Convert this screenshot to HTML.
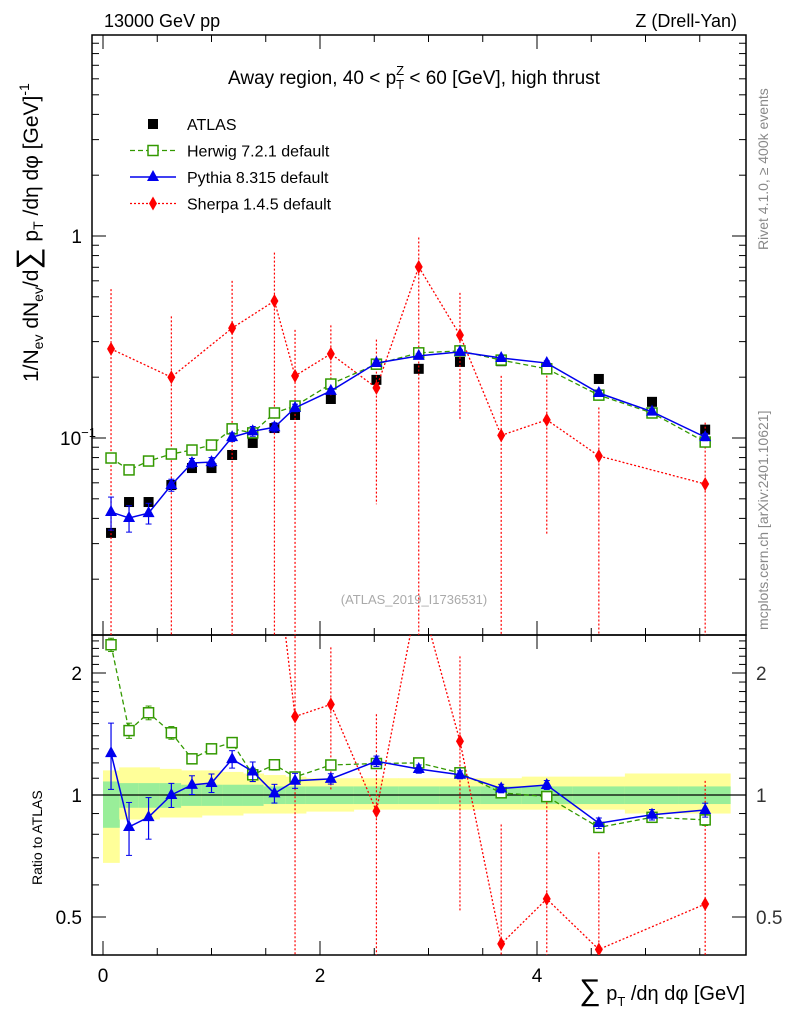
<!DOCTYPE html>
<html><head><meta charset="utf-8"><style>
html,body{margin:0;padding:0;background:#fff;width:786px;height:1024px;overflow:hidden}
svg{font-family:"Liberation Sans",sans-serif;display:block}
</style></head><body>
<svg id="c" width="786" height="1024" viewBox="0 0 786 1024" overflow="hidden">
<defs>
<clipPath id="cm"><rect x="92" y="35" width="654" height="600"/></clipPath>
<clipPath id="cr"><rect x="92" y="635" width="654" height="320"/></clipPath>
</defs>
<rect x="92" y="35" width="654" height="600" fill="none" stroke="#000" stroke-width="1.5"/>
<rect x="92" y="635" width="654" height="320" fill="none" stroke="#000" stroke-width="1.5"/>
<g id="bands"></g>
<g id="ticks"></g>
<g id="marksM" clip-path="url(#cm)"></g>
<g id="marksR" clip-path="url(#cr)"></g>
<text x="104" y="27" font-size="18">13000 GeV pp</text>
<text x="737" y="27" font-size="18" text-anchor="end">Z (Drell-Yan)</text>
<text x="414" y="84" font-size="19" text-anchor="middle">Away region, 40 &lt; p<tspan font-size="13" dy="5">T</tspan><tspan font-size="13" dx="-8" dy="-14">Z</tspan><tspan dy="9"> &lt; 60 [GeV], high thrust</tspan></text>
<text x="414" y="604" font-size="13" fill="#aaa" text-anchor="middle">(ATLAS_2019_I1736531)</text>
<text transform="translate(768,250) rotate(-90)" font-size="14" fill="#888">Rivet 4.1.0, ≥ 400k events</text>
<text transform="translate(768,630) rotate(-90)" font-size="14" fill="#888">mcplots.cern.ch [arXiv:2401.10621]</text>
<text transform="translate(38,382) rotate(-90)" font-size="21">1/N<tspan font-size="14" dy="5">ev</tspan><tspan dy="-5"> dN</tspan><tspan font-size="14" dy="5">ev</tspan><tspan dy="-5">/d</tspan><tspan font-size="31">∑</tspan><tspan> p</tspan><tspan font-size="14" dy="5">T</tspan><tspan dy="-5"> /dη dφ  [GeV]</tspan><tspan font-size="14" dy="-9">-1</tspan></text>
<text transform="translate(42,885) rotate(-90)" font-size="14">Ratio to ATLAS</text>
<text x="745" y="1000" font-size="20" text-anchor="end"><tspan font-size="30">∑</tspan> p<tspan font-size="13" dy="6">T</tspan><tspan dy="-6"> /dη dφ [GeV]</tspan></text>
<g id="legend"></g>
</svg>
<script>
const edges=[0,0.15,0.33,0.52,0.72,0.91,1.1,1.29,1.48,1.68,1.87,2.31,2.72,3.1,3.48,3.86,4.33,4.81,5.3,5.78];
const xs=[0.074,0.24,0.42,0.63,0.82,1.0,1.19,1.38,1.58,1.77,2.10,2.52,2.91,3.29,3.67,4.09,4.57,5.06,5.55];
const atlas=[0.0339,0.0482,0.0482,0.0585,0.0710,0.0710,0.0824,0.0945,0.112,0.130,0.156,0.194,0.220,0.238,0.240,0.222,0.196,0.151,0.110];
const herwig=[0.0796,0.0695,0.0769,0.0833,0.0872,0.0923,0.111,0.106,0.133,0.144,0.185,0.232,0.264,0.270,0.243,0.220,0.163,0.133,0.0955];
const pythia=[0.0430,0.0402,0.0425,0.0585,0.0752,0.0760,0.101,0.108,0.113,0.141,0.171,0.235,0.255,0.267,0.249,0.235,0.167,0.135,0.101];
const pythiaErr=[0.008,0.006,0.005,0.004,0.004,0.004,0.005,0.006,0.006,0.006,0.005,0.007,0.006,0.006,0.006,0.006,0.005,0.004,0.004];
const herwigErr=[0.003,0.003,0.003,0.003,0.002,0.002,0.003,0.004,0.004,0.004,0.004,0.004,0.004,0.004,0.004,0.004,0.004,0.003,0.003];
const sherpaIdx=[0,3,6,8,9,10,11,12,13,14,15,16,18];
const sherpa=[0.276,0.200,0.350,0.477,0.203,0.261,0.177,0.703,0.323,0.103,0.123,0.0815,0.0592];
const sherpaHi=[0.27,0.20,0.25,0.35,0.14,0.10,0.13,0.28,0.20,0.10,0.10,0.06,0.06];
const sherpaLo=[0.28,0.21,0.36,0.48,0.21,0.10,0.13,0.71,0.20,0.11,0.09,0.09,0.07];
const yellowHi=[1.15,1.17,1.17,1.16,1.15,1.15,1.14,1.13,1.12,1.11,1.10,1.10,1.10,1.10,1.10,1.11,1.11,1.13,1.13];
const yellowLo=[0.68,0.87,0.87,0.88,0.88,0.89,0.89,0.90,0.90,0.90,0.91,0.92,0.92,0.92,0.92,0.92,0.92,0.90,0.90];
const greenHi=[1.08,1.07,1.07,1.07,1.06,1.06,1.06,1.06,1.05,1.05,1.05,1.05,1.05,1.05,1.05,1.05,1.05,1.05,1.05];
const greenLo=[0.83,0.93,0.93,0.93,0.94,0.94,0.94,0.94,0.95,0.95,0.95,0.95,0.95,0.95,0.95,0.95,0.95,0.95,0.95];
const NS='http://www.w3.org/2000/svg';
const X=u=>103+u*108.5;
const Y=v=>236-Math.log10(v)*202;
const R=r=>795-Math.log2(r)*122;
function el(p,t,a){const e=document.createElementNS(NS,t);for(const k in a)e.setAttribute(k,a[k]);p.appendChild(e);return e;}
const bands=document.getElementById('bands'),ticks=document.getElementById('ticks'),mM=document.getElementById('marksM'),mR=document.getElementById('marksR');
for(let i=0;i<xs.length;i++){
 const y=el(bands,'rect',{x:X(edges[i]),y:R(yellowHi[i]),width:X(edges[i+1])-X(edges[i])+0.5,height:R(yellowLo[i])-R(yellowHi[i]),fill:'#ffff99'});
 
 
 const g=el(bands,'rect',{x:X(edges[i]),y:R(greenHi[i]),width:X(edges[i+1])-X(edges[i])+0.5,height:R(greenLo[i])-R(greenHi[i]),fill:'#99ee99'});
 
 
}
el(bands,'line',{x1:92,x2:746,y1:R(1),y2:R(1),stroke:'#000','stroke-width':1.2});
for(let u=0;u<=5.75;u+=0.5){const maj=Math.abs(u%2)<1e-6;const L=maj?14:7;const x=X(u);
 el(ticks,'line',{x1:x,x2:x,y1:35,y2:35+L,stroke:'#000'});
 el(ticks,'line',{x1:x,x2:x,y1:635,y2:635-L,stroke:'#000'});
 el(ticks,'line',{x1:x,x2:x,y1:635,y2:635+L,stroke:'#000'});
 el(ticks,'line',{x1:x,x2:x,y1:955,y2:955-L,stroke:'#000'});
 if(maj){const t=el(ticks,'text',{x:x,y:982,'font-size':19,'text-anchor':'middle'});t.textContent=String(u);
 
 }
}
for(let d=-2;d<=0;d++)for(let m=1;m<=9;m++){const v=m*Math.pow(10,d);const y=Y(v);if(y<35||y>635)continue;const L=m==1?14:7;
 el(ticks,'line',{x1:92,x2:92+L,y1:y,y2:y,stroke:'#000'});el(ticks,'line',{x1:746,x2:746-L,y1:y,y2:y,stroke:'#000'});}
let t=el(ticks,'text',{x:82,y:Y(1)+7,'font-size':19,'text-anchor':'end'});t.textContent='1';
t=el(ticks,'text',{x:60,y:Y(0.1)+7,'font-size':19});t.innerHTML='10<tspan font-size="13" dy="-8">−1</tspan>';
const rt=[0.5,0.6,0.7,0.8,0.9,1,1.1,1.2,1.3,1.4,1.5,1.6,1.7,1.8,1.9,2,2.1,2.2,2.3,2.4];
rt.forEach(r=>{const y=R(r);if(y<635||y>955)return;const maj=(r==0.5||r==1||r==2);const L=maj?14:7;
 el(ticks,'line',{x1:92,x2:92+L,y1:y,y2:y,stroke:'#000'});el(ticks,'line',{x1:746,x2:746-L,y1:y,y2:y,stroke:'#000'});
 if(maj){const s=String(r);let a=el(ticks,'text',{x:82,y:y+7,'font-size':19,'text-anchor':'end'});a.textContent=s;
 a=el(ticks,'text',{x:756,y:y+7,'font-size':19,fill:'#333'});a.textContent=s;}});
function dash(c,st){return st=='dash'?{stroke:c,'stroke-dasharray':'5,3','stroke-width':1.3,fill:'none'}:st=='dot'?{stroke:c,'stroke-dasharray':'2,2','stroke-width':1.3,fill:'none'}:{stroke:c,'stroke-width':1.5,fill:'none'};}
function marker(g,type,x,y,c){
 if(type=='sq')el(g,'rect',{x:x-5,y:y-5,width:10,height:10,fill:'#000'});
 if(type=='osq')el(g,'rect',{x:x-5,y:y-5,width:10,height:10,fill:'#fff',stroke:c,'stroke-width':1.5});
 if(type=='tri')el(g,'polygon',{points:`${x},${y-7} ${x-6},${y+4} ${x+6},${y+4}`,fill:c});
 if(type=='dia')el(g,'polygon',{points:`${x},${y-7} ${x-4},${y} ${x},${y+7} ${x+4},${y}`,fill:c});
}
function series(name,idx,vals,lo,hi,c,st,type){
 const g=el(mM,'g',{});
 
 
 const gr=el(mR,'g',{});
 
 
 const pm=[],pr=[];
 idx.forEach((k,j)=>{const x=X(xs[k]);const v=vals[j];const r=v/atlas[k];
  pm.push(x+','+Y(v));pr.push(x+','+R(r));
  if(lo){const top=Y(v+hi[j]);const bot=v-lo[j]>0.001?Y(v-lo[j]):640;
   const ea=Object.assign(dash(c,st=='dot'?'dot':'solid'),{'stroke-width':1.2});
   el(g,'line',Object.assign({x1:x,x2:x,y1:top,y2:bot},ea));
   const ry=R(r);
   if(ry>=635&&ry<=955){
    const rtop=R((v+hi[j])/atlas[k]);const rb=v-lo[j]>0.001?Math.min(960,R((v-lo[j])/atlas[k])):960;
    el(gr,'line',Object.assign({x1:x,x2:x,y1:rtop,y2:rb},ea));
    if(st!='dot')[rtop,rb].forEach(yy=>el(gr,'line',{x1:x-3,x2:x+3,y1:yy,y2:yy,stroke:c}));
   }
   if(st!='dot')[top,bot].forEach(yy=>el(g,'line',{x1:x-3,x2:x+3,y1:yy,y2:yy,stroke:c}));
  }});
 if(type!='sq'){el(g,'polyline',Object.assign({points:pm.join(' ')},dash(c,st)));el(gr,'polyline',Object.assign({points:pr.join(' ')},dash(c,st)));}
 idx.forEach((k,j)=>{const x=X(xs[k]);const v=vals[j];const r=v/atlas[k];
  marker(g,type,x,Y(v),c);
  if(type!='sq')marker(gr,type,x,R(r),c);});
}
const all=xs.map((_,i)=>i);
series('atlas',all,atlas,null,null,'#000','solid','sq');
series('sherpa',sherpaIdx,sherpa,sherpaLo,sherpaHi,'#ff0000','dot','dia');
series('herwig',all,herwig,herwigErr,herwigErr,'#339900','dash','osq');
series('pythia',all,pythia,pythiaErr,pythiaErr,'#0000ee','solid','tri');
const lg=document.getElementById('legend');
const items=[['ATLAS','#000','solid','sq'],['Herwig 7.2.1 default','#339900','dash','osq'],['Pythia 8.315 default','#0000ee','solid','tri'],['Sherpa 1.4.5 default','#ff0000','dot','dia']];
items.forEach((it,i)=>{const y=124+i*26.5;const g=el(lg,'g',{});
 
 
 if(it[3]!='sq')el(g,'line',Object.assign({x1:130,x2:176,y1:y,y2:y},dash(it[1],it[2])));
 marker(g,it[3],153,y,it[1]);
 const tx=el(g,'text',{x:187,y:y+6,'font-size':16});tx.textContent=it[0];});
</script>
</body></html>
